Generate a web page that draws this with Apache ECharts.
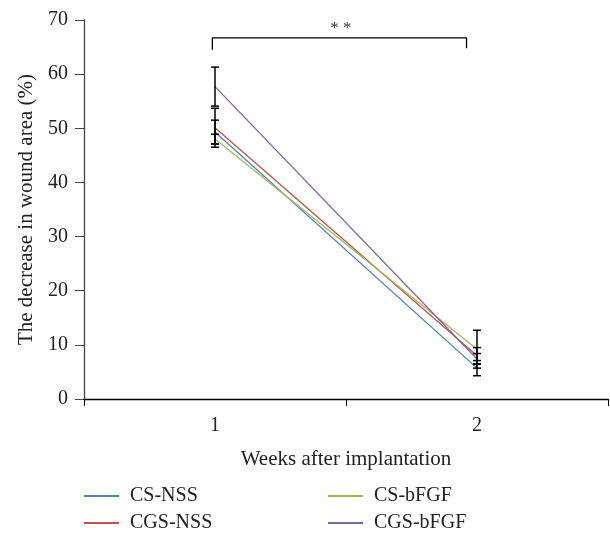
<!DOCTYPE html>
<html><head><meta charset="utf-8">
<script src="https://cdn.jsdelivr.net/npm/echarts@6/dist/echarts.min.js"></script>
<style>html,body{margin:0;padding:0;background:#fff}#c{width:610px;height:533px}</style>
</head><body><div id="c"></div>
<script>
const categories = ['1', '2'];
const seriesNames = ['CS-NSS', 'CGS-NSS', 'CS-bFGF', 'CGS-bFGF'];
const csNss = [49.3, 5.7];
const cgsNss = [50.1, 8.0];
const csBfgf = [48.0, 9.2];
const cgsBfgf = [57.7, 7.4];
const csNssErr = [2.2, 1.4];
const cgsNssErr = [3.6, 1.5];
const csBfgfErr = [0.9, 3.5];
const cgsBfgfErr = [3.6, 1.0];
const yTicks = [0, 10, 20, 30, 40, 50, 60, 70];
const bracket = [[0.49, 64.5], [0.49, 66.7], [1.46, 66.7], [1.46, 64.8]];
const starPos = [[0.98, 68.5]];
const starText = '* *';

const colors = ['#4f81bd', '#c0504d', '#9bbb59', '#8064a2'];
const values = [csNss, cgsNss, csBfgf, cgsBfgf];
const errs = [csNssErr, cgsNssErr, csBfgfErr, cgsBfgfErr];
const FONT = 'Liberation Serif';
const TXT = '#222';

const errData = [];
values.forEach((v, s) => v.forEach((y, i) => errData.push([i, y - errs[s][i], y + errs[s][i]])));

const chart = echarts.init(document.getElementById('c'), null, {renderer: 'canvas'});
const series = seriesNames.map((n, s) => ({
  name: n, type: 'line', data: values[s], symbol: 'none',
  lineStyle: {color: colors[s], width: 1.3}, itemStyle: {color: colors[s]}, z: 3
}));
series.push({
  type: 'custom', name: 'err', data: errData, z: 5,
  renderItem: function (params, api) {
    const x = api.value(0);
    const lo = api.coord([x, api.value(1)]);
    const hi = api.coord([x, api.value(2)]);
    const w = 4;
    const st = {stroke: '#000', lineWidth: 1.5};
    return {type: 'group', children: [
      {type: 'line', shape: {x1: lo[0], y1: lo[1], x2: hi[0], y2: hi[1]}, style: st},
      {type: 'line', shape: {x1: lo[0] - w, y1: lo[1], x2: lo[0] + w, y2: lo[1]}, style: st},
      {type: 'line', shape: {x1: hi[0] - w, y1: hi[1], x2: hi[0] + w, y2: hi[1]}, style: st}
    ]};
  }
});
series.push({
  type: 'line', xAxisIndex: 1, data: bracket, symbol: 'none', silent: true,
  lineStyle: {color: '#000', width: 1.3}
});
series.push({
  type: 'scatter', xAxisIndex: 1, data: starPos, symbolSize: 0, silent: true,
  label: {show: true, formatter: starText, position: 'inside', color: '#000',
    fontFamily: FONT, fontSize: 17}
});

const legendPos = [[84, 486], [84, 513], [328, 486], [328, 513]];
const legends = seriesNames.map((n, i) => ({
  data: [n], left: legendPos[i][0], top: legendPos[i][1], icon: 'rect',
  itemWidth: 35, itemHeight: 2, itemGap: 0, padding: 0,
  textStyle: {fontFamily: FONT, fontSize: 20, color: TXT, padding: [0, 0, 0, 6]}
}));

chart.setOption({
  animation: false,
  color: colors,
  grid: {left: 84, right: 2, top: 20, bottom: 134, containLabel: false},
  legend: legends,
  xAxis: [{
    type: 'category', data: categories, boundaryGap: true,
    name: 'Weeks after implantation', nameLocation: 'middle', nameGap: 50,
    nameTextStyle: {fontFamily: FONT, fontSize: 21, color: TXT},
    axisLine: {lineStyle: {color: '#000', width: 1.3}},
    axisTick: {show: true, length: 7, lineStyle: {color: '#000'}},
    axisLabel: {fontFamily: FONT, fontSize: 20, color: TXT, margin: 17},
    splitLine: {show: false}
  }, {
    type: 'value', min: 0, max: 2, show: false
  }],
  yAxis: {
    type: 'value', min: yTicks[0], max: yTicks[yTicks.length - 1], interval: 10,
    name: 'The decrease in wound area (%)', nameLocation: 'middle', nameGap: 46, nameRotate: 90,
    nameTextStyle: {fontFamily: FONT, fontSize: 21, color: TXT},
    axisLine: {show: true, lineStyle: {color: '#444', width: 1.3}},
    axisTick: {show: true, length: 9, lineStyle: {color: '#444'}},
    axisLabel: {fontFamily: FONT, fontSize: 20, color: TXT, margin: 16},
    splitLine: {show: false}
  },
  series: series
});
</script></body></html>
